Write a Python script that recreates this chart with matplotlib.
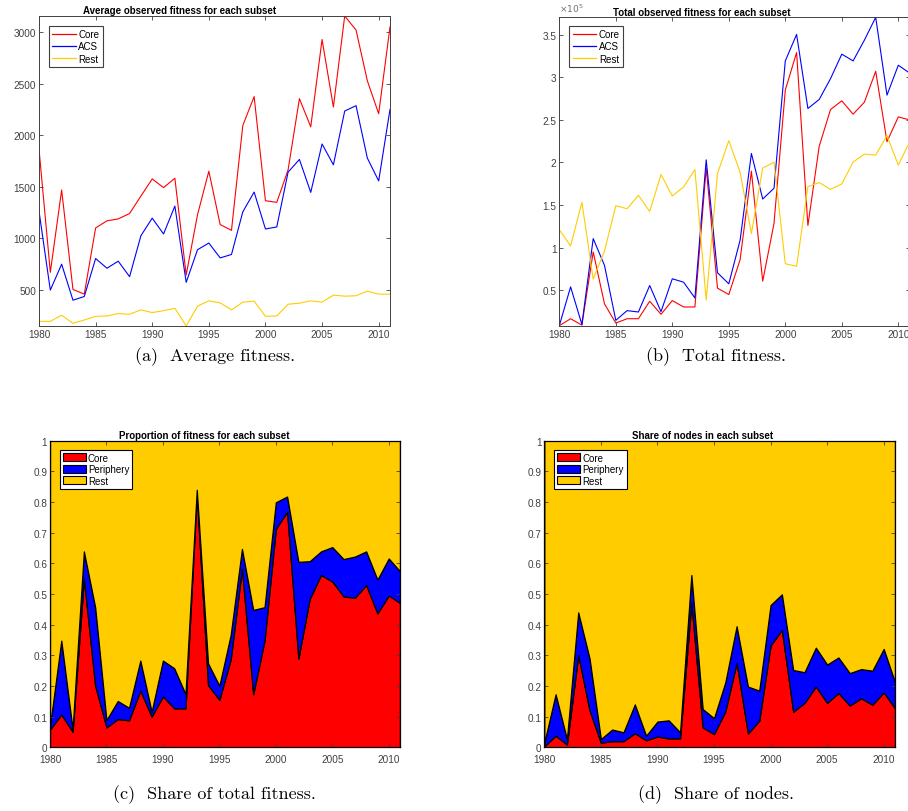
import matplotlib
matplotlib.use("Agg")
import matplotlib.pyplot as plt
from matplotlib.ticker import FuncFormatter
from matplotlib.patches import Patch
from matplotlib.lines import Line2D

plt.rcParams["font.family"] = ["Liberation Sans", "DejaVu Sans"]

YEARS = list(range(1980, 2012))

# (a) average observed fitness
avg_core = [1867, 672, 1470, 506, 461, 1102, 1171, 1190, 1242, 1411, 1577, 1493,
            1584, 646, 1230, 1652, 1135, 1079, 2095, 2375, 1366, 1350, 1665, 2355,
            2082, 2928, 2274, 3156, 3020, 2528, 2209, 3050]
avg_acs = [1265, 500, 751, 402, 438, 806, 712, 780, 630, 1027, 1197, 1044,
           1314, 575, 891, 956, 812, 845, 1258, 1450, 1092, 1112, 1643, 1766,
           1447, 1916, 1714, 2235, 2287, 1779, 1558, 2251]
avg_rest = [197, 197, 256, 178, 210, 246, 249, 272, 266, 308, 282, 301,
            324, 152, 344, 396, 376, 308, 383, 393, 246, 249, 363, 373,
            396, 383, 451, 441, 445, 490, 461, 461]

# (b) total observed fitness
tot_core = [8300, 16500, 9000, 94900, 33900, 11400, 16500, 16500, 37000, 21700,
            37800, 30300, 30300, 193300, 52400, 44900, 85800, 189800, 60600, 128300,
            285000, 329100, 126000, 218900, 262200, 272400, 256700, 270900, 307100,
            224400, 253500, 250000]
tot_acs = [8300, 53900, 9800, 110600, 79100, 14600, 26000, 24400, 55500, 24800,
           63400, 59400, 40900, 203100, 70500, 57500, 108700, 210600, 157100, 169700,
           319300, 350400, 263400, 274000, 298400, 327200, 319300, 343700, 370500,
           279100, 314200, 305000]
tot_rest = [120900, 102000, 153100, 63000, 96100, 149200, 145700, 161400, 142500,
            185800, 160600, 171300, 191700, 38600, 187000, 225600, 188600, 116500,
            193300, 200400, 81100, 78000, 171700, 176400, 168500, 174800, 200400,
            209800, 208700, 231500, 196900, 224000]

# (c) share of total fitness
fit_core = [0.058, 0.107, 0.051, 0.549, 0.201, 0.065, 0.092, 0.088, 0.185, 0.100,
            0.166, 0.127, 0.127, 0.826, 0.203, 0.155, 0.286, 0.582, 0.173, 0.348,
            0.712, 0.768, 0.290, 0.484, 0.562, 0.541, 0.492, 0.488, 0.529, 0.437,
            0.495, 0.471]
fit_peri = [0.012, 0.241, 0.009, 0.090, 0.256, 0.024, 0.059, 0.041, 0.098, 0.016,
            0.117, 0.131, 0.047, 0.014, 0.071, 0.046, 0.080, 0.065, 0.275, 0.109,
            0.087, 0.050, 0.315, 0.123, 0.077, 0.112, 0.122, 0.134, 0.110, 0.110,
            0.121, 0.103]

# (d) share of nodes
node_core = [0.003, 0.038, 0.009, 0.301, 0.120, 0.015, 0.020, 0.020, 0.046, 0.023,
             0.035, 0.029, 0.029, 0.470, 0.065, 0.043, 0.117, 0.275, 0.045, 0.087,
             0.332, 0.383, 0.116, 0.145, 0.198, 0.145, 0.177, 0.136, 0.160, 0.139,
             0.179, 0.127]
node_peri = [0.012, 0.135, 0.018, 0.139, 0.170, 0.012, 0.038, 0.029, 0.094, 0.015,
             0.049, 0.059, 0.020, 0.092, 0.060, 0.052, 0.095, 0.120, 0.153, 0.098,
             0.132, 0.116, 0.136, 0.100, 0.127, 0.125, 0.116, 0.106, 0.095, 0.111,
             0.142, 0.085]

LINE_LABELS = ["Core", "ACS", "Rest"]
AREA_LABELS = ["Core", "Periphery", "Rest"]
RED = "#ff0000"
BLUE = "#0000ff"
GOLD = "#ffcc00"
AX_GRAY = "#404040"
SCALE = 1e5

W, H = 908, 812


def px_axes(fig, left, right, top, bottom):
    return fig.add_axes([left / W, 1 - bottom / H, (right - left) / W, (bottom - top) / H])


def style_axes(ax, xpad=2.5):
    for s in ax.spines.values():
        s.set_color(AX_GRAY)
        s.set_linewidth(0.7)
    ax.tick_params(direction="in", top=True, right=True, length=3, width=0.6,
                   labelsize=7.2, colors=AX_GRAY, pad=2)
    ax.tick_params(axis="x", pad=xpad)
    ax.set_xticks(range(1980, 2011, 5))
    ax.set_xlim(1980, 2011)
    ax.yaxis.set_major_formatter(FuncFormatter(lambda v, p: "%g" % v))


def line_legend(ax, x0, y0):
    handles = [Line2D([], [], color=c, lw=0.9) for c in (RED, BLUE, GOLD)]
    leg = ax.legend(handles, LINE_LABELS, loc="upper left", bbox_to_anchor=(x0, y0),
                    borderaxespad=0, fontsize=7, fancybox=False, framealpha=1,
                    edgecolor=AX_GRAY, handlelength=2.4, handletextpad=0.3,
                    labelspacing=0.22, borderpad=0.35)
    leg.get_frame().set_linewidth(0.8)


def area_legend(ax, x0, y0):
    handles = [Patch(facecolor=c, edgecolor="black", lw=0.8) for c in (RED, BLUE, GOLD)]
    leg = ax.legend(handles, AREA_LABELS, loc="upper left", bbox_to_anchor=(x0, y0),
                    borderaxespad=0, fontsize=7, fancybox=False, framealpha=1,
                    edgecolor="black", handlelength=2.4, handleheight=0.9,
                    handletextpad=0.2, labelspacing=0.15, borderpad=0.3)
    leg.get_frame().set_linewidth(0.8)


fig = plt.figure(figsize=(W / 100, H / 100), dpi=100)

# (a)
ax = px_axes(fig, 39, 390, 17, 327)
ax.plot(YEARS, avg_core, color=RED, lw=0.8)
ax.plot(YEARS, avg_acs, color=BLUE, lw=0.8)
ax.plot(YEARS, avg_rest, color=GOLD, lw=0.8)
allv = avg_core + avg_acs + avg_rest
ax.set_ylim(min(allv), max(allv))
ax.set_yticks(range(500, 3001, 500))
style_axes(ax)
line_legend(ax, 0.028, 0.968)
ax.set_title("Average observed fitness for each subset", fontsize=7, fontweight="bold",
             x=0.40, pad=2)

# (b)
ax = px_axes(fig, 559.3, 909.6, 18.3, 326.7)
ax.plot(YEARS, [v / SCALE for v in tot_core], color=RED, lw=0.8)
ax.plot(YEARS, [v / SCALE for v in tot_acs], color=BLUE, lw=0.8)
ax.plot(YEARS, [v / SCALE for v in tot_rest], color=GOLD, lw=0.8)
allv = [v / SCALE for v in tot_core + tot_acs + tot_rest]
ax.set_ylim(min(allv), max(allv))
ax.set_yticks([0.5, 1, 1.5, 2, 2.5, 3, 3.5])
style_axes(ax)
line_legend(ax, 0.028, 0.972)
ax.set_title("Total observed fitness for each subset", fontsize=7, fontweight="bold",
             x=0.407, pad=2)
ax.text(0.0, 1.01, r"$\times 10^5$", transform=ax.transAxes, fontsize=6.5,
        color="#707070", ha="left", va="bottom")

# (c) and (d)
for (l, r), core, peri, title, tx in [
    ((50, 400), fit_core, fit_peri, "Proportion of fitness for each subset", 0.44),
    ((544.3, 895), node_core, node_peri, "Share of nodes in each subset", 0.451),
]:
    ax = px_axes(fig, l, r, 441.7, 748.3)
    rest = [1 - a - b for a, b in zip(core, peri)]
    ax.stackplot(YEARS, core, peri, rest, colors=[RED, BLUE, GOLD],
                 edgecolor="black", linewidth=0.9)
    ax.set_ylim(0, 1)
    ax.set_yticks([i / 10 for i in range(11)])
    style_axes(ax, xpad=4.5)
    for s in ax.spines.values():
        s.set_color("black")
        s.set_linewidth(0.9)
    area_legend(ax, 0.028, 0.97)
    ax.set_title(title, fontsize=7, fontweight="bold", x=tx, pad=2)

# captions
cap = dict(fontsize=13, family="cmr10", ha="center", va="center")
fig.text(215 / W, 1 - 357 / H, "(a)  Average fitness.", **cap)
fig.text(716 / W, 1 - 357 / H, "(b)  Total fitness.", **cap)
fig.text(214 / W, 1 - 795 / H, "(c)  Share of total fitness.", **cap)
fig.text(716 / W, 1 - 795 / H, "(d)  Share of nodes.", **cap)

fig.savefig("out.png", dpi=100)
